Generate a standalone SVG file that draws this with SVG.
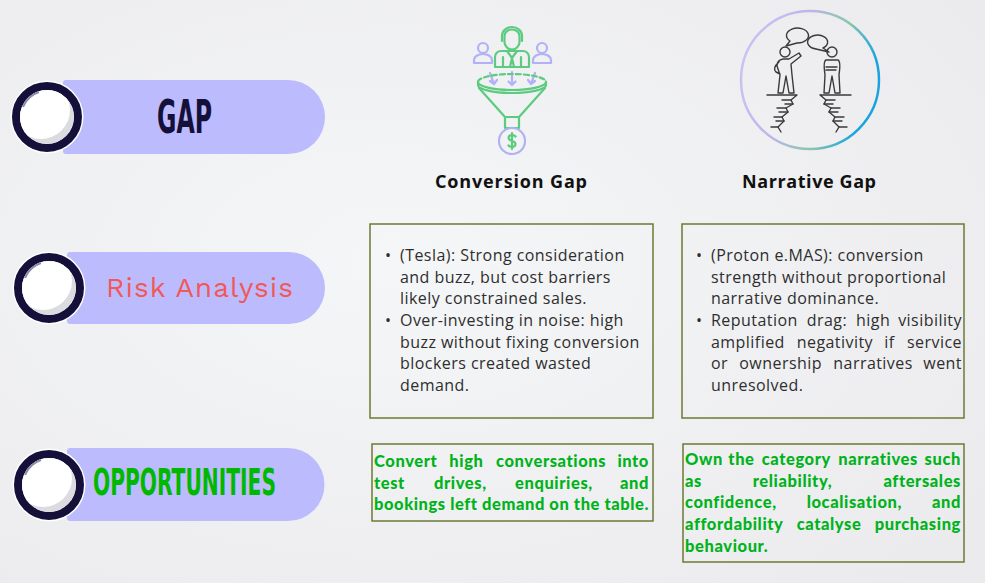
<svg xmlns="http://www.w3.org/2000/svg" width="985" height="583" viewBox="0 0 985 583">
<defs>
  <radialGradient id="bg" cx="0.4" cy="0.45" r="0.75">
    <stop offset="0" stop-color="#f5f6f8"/>
    <stop offset="1" stop-color="#ebebed"/>
  </radialGradient>
  <linearGradient id="ringGrad" x1="0" y1="0" x2="1" y2="0.3">
    <stop offset="0" stop-color="#cbc8f6"/>
    <stop offset="0.45" stop-color="#c0b4ea"/>
    <stop offset="0.75" stop-color="#86c7a9"/>
    <stop offset="1" stop-color="#1aa3e0"/>
  </linearGradient>
  <clipPath id="discClip"><circle cx="0" cy="0" r="27"/></clipPath>
  <g id="badge">
    <circle cx="0" cy="0" r="36.5" fill="#ffffff"/>
    <circle cx="0" cy="0" r="31" fill="none" stroke="#15103a" stroke-width="8"/>
    <g clip-path="url(#discClip)">
      <circle cx="0" cy="0" r="27" fill="#dcdce0"/>
      <circle cx="-6" cy="-7" r="29" fill="#ffffff"/>
    </g>
    <path d="M -24 -10 A 26 26 0 0 1 -8 -25" fill="none" stroke="#8f8aa8" stroke-width="2"/>
  </g>
</defs>
<style>
  .pill { fill: #bbbbfd; }
  .body { font-family: "Open Sans", "Liberation Sans", sans-serif; font-size: 16px; letter-spacing: 0.45px; fill: #2e2e2e; }
  .opp { font-family: Lato, "Liberation Sans", sans-serif; font-weight: 900; font-size: 16.5px; letter-spacing: 0.6px; fill: #00b31a; }
  .end { text-anchor: end; }
  .head { font-family: "Open Sans", "Liberation Sans", sans-serif; font-weight: 700; font-size: 18px; fill: #111111; }
  .box { fill: none; stroke: #6d7a35; stroke-width: 1.5; }
  .cond { font-family: "Liberation Sans Narrow", "DejaVu Sans Condensed", "DejaVu Sans", sans-serif; font-weight: 700; }
  .ico { fill: none; stroke: #5ccb80; stroke-width: 2.2; stroke-linecap: round; stroke-linejoin: round; }
  .icoL { fill: none; stroke: #b1b1f7; stroke-width: 2.2; stroke-linecap: round; stroke-linejoin: round; }
  .line { fill: none; stroke: #3a3a3a; stroke-width: 1.4; stroke-linecap: round; stroke-linejoin: round; }
</style>

<rect x="0" y="0" width="985" height="583" fill="url(#bg)"/>

<g id="connectors"></g>

<!-- Row labels -->
<g id="label-gap">
  <path class="pill" d="M 66 80 H 288 A 37 37 0 0 1 288 154 H 66 A 3 3 0 0 1 63 151 V 83 A 3 3 0 0 1 66 80 Z"/>
  <use href="#badge" x="47" y="117"/>
  <g transform="translate(157 133) scale(0.62 1)">
    <text class="cond" x="0" y="0" font-size="46" fill="#15103a" textLength="88.7" lengthAdjust="spacingAndGlyphs">GAP</text>
  </g>
</g>

<g id="label-risk">
  <path class="pill" d="M 70 252 H 289 A 36 36 0 0 1 289 324 H 70 A 3 3 0 0 1 67 321 V 255 A 3 3 0 0 1 70 252 Z"/>
  <use href="#badge" x="49" y="288"/>
  <text x="106" y="297" font-family="'Work Sans', Lato, 'Open Sans', sans-serif" font-size="28" fill="#f25858" textLength="187">Risk Analysis</text>
</g>

<g id="label-opp">
  <path class="pill" d="M 70 448 H 288 A 36.5 36.5 0 0 1 288 521 H 70 A 3 3 0 0 1 67 518 V 451 A 3 3 0 0 1 70 448 Z"/>
  <use href="#badge" x="49" y="485"/>
  <g transform="translate(93 495) scale(0.6 1)">
    <text class="cond" x="0" y="0" font-size="37" fill="#00b800" textLength="305" lengthAdjust="spacingAndGlyphs">OPPORTUNITIES</text>
  </g>
</g>

<!-- Conversion Gap icon -->
<g id="icon-conversion">
  <circle class="icoL" cx="483" cy="48" r="5"/>
  <path class="icoL" d="M 474 63 V 60 A 9 6 0 0 1 492 60 V 63 Z"/>
  <circle class="icoL" cx="542" cy="48" r="5"/>
  <path class="icoL" d="M 533 63 V 60 A 9 6 0 0 1 551 60 V 63 Z"/>
  <path class="ico" d="M 504.5 42 V 36 A 7.5 6.5 0 0 1 519.5 36 V 42 A 7.5 7.5 0 0 1 504.5 42 Z"/>
  <path class="ico" d="M 502 41 V 36 A 10 9 0 0 1 522 36 V 41"/>
  <path class="ico" d="M 495 67 V 57 A 6 6 0 0 1 501 51 H 523 A 6 6 0 0 1 529 57 V 67 Z"/>
  <path class="ico" d="M 507 51 L 512 58 L 517 51 M 512 58 L 510 67 M 512 58 L 514 67 M 503 57 V 67 M 521 57 V 67"/>
  <path class="icoL" d="M 490 73 L 494 84 M 490 81 L 494 84 L 497 80"/>
  <path class="icoL" d="M 512 72 V 85 M 508.5 81.5 L 512 85 L 515.5 81.5"/>
  <path class="icoL" d="M 535 73 L 531 84 M 528 80 L 531 84 L 535 81"/>
  <path class="ico" d="M 478 82 A 34 8 0 0 1 546 82" stroke-dasharray="5 3"/>
  <path class="ico" d="M 478 82 A 34 8 0 0 0 546 82"/>
  <path class="ico" d="M 478 82 V 85 A 34 8 0 0 0 546 85 V 82"/>
  <path class="ico" d="M 479 88 L 505 117 H 519 L 545 88"/>
  <rect class="ico" x="505" y="117" width="14" height="11"/>
  <circle class="icoL" cx="512" cy="141" r="13"/>
  <path class="ico" stroke-width="1.8" d="M 515.5 136.5 C 514 134.5 508.5 134.5 508.5 138 C 508.5 141.5 515.5 140 515.5 144 C 515.5 147.5 510 147.5 508.5 145.5 M 512 133 V 149"/>
</g>

<!-- Narrative Gap icon -->
<g id="icon-narrative">
  <circle cx="810" cy="80" r="69" fill="none" stroke="url(#ringGrad)" stroke-width="2.5"/>
  <path class="line" d="M 797 43 A 11 7.5 0 1 0 790 41 L 786 46 Z"/>
  <path class="line" d="M 816 49 A 10 7 0 1 1 823 48 L 829 52 Z"/>
  <circle class="line" cx="785" cy="52" r="5"/>
  <path class="line" d="M 778 93 L 780 75 L 777 66 Q 777 60 783 59 L 789 59 L 799 53 L 801 56 L 791 64 L 792 75 L 794 93 M 778 93 H 783 L 786 76 L 789 93 H 794 M 779 62 Q 772 68 776 72 L 780 74"/>
  <circle class="line" cx="832" cy="52" r="5"/>
  <path class="line" d="M 824 93 L 825 75 Q 823 61 826 60 L 838 60 Q 841 61 839 75 L 840 93 M 824 93 H 829 L 832 76 L 835 93 H 840 M 826 67 H 837 M 826 70 H 836"/>
  <path class="line" d="M 767 95 H 797 L 791 100 L 793 104 L 786 108 L 788 112 L 782 117 L 784 121 L 778 127 L 781 132"/>
  <path class="line" d="M 791 100 H 782 M 793 104 H 785 M 786 108 H 777 M 788 112 H 779 M 782 117 H 774 M 784 121 H 776 M 778 127 H 771"/>
  <path class="line" d="M 820 95 H 851 M 820 95 L 826 100 L 824 104 L 831 108 L 829 112 L 835 117 L 833 121 L 839 127 L 836 132"/>
  <path class="line" d="M 826 100 H 835 M 824 104 H 833 M 831 108 H 840 M 829 112 H 838 M 835 117 H 844 M 833 121 H 842 M 839 127 H 847"/>
</g>

<g id="heading-conversion">
  <text class="head" x="435" y="188" textLength="152">Conversion Gap</text>
</g>
<g id="heading-narrative">
  <text class="head" x="742" y="188" textLength="134">Narrative Gap</text>
</g>

<!-- Risk boxes -->
<g id="risk-conversion">
  <rect class="box" x="370" y="224" width="283" height="194"/>
  <text class="body" x="385" y="261">•</text>
  <text class="body" x="400" y="261">(Tesla): Strong consideration</text>
  <text class="body" x="400" y="282.7">and buzz, but cost barriers</text>
  <text class="body" x="400" y="304.3">likely constrained sales.</text>
  <text class="body" x="385" y="326">•</text>
  <text class="body" x="400" y="326">Over-investing in noise: high</text>
  <text class="body" x="400" y="347.7">buzz without fixing conversion</text>
  <text class="body" x="400" y="369.3">blockers created wasted</text>
  <text class="body" x="400" y="391">demand.</text>
</g>

<g id="risk-narrative">
  <rect class="box" x="682" y="224" width="282" height="194"/>
  <text class="body" x="696" y="261">•</text>
  <text class="body" x="711" y="261">(Proton e.MAS): conversion</text>
  <text class="body" x="711" y="282.7">strength without proportional</text>
  <text class="body" x="711" y="304.3">narrative dominance.</text>
  <text class="body" x="696" y="326">•</text>
  <text class="body" y="326"><tspan x="711">Reputation</tspan><tspan x="806.7">drag:</tspan><tspan x="856">high</tspan></text>
  <text class="body end" x="962" y="326">visibility</text>
  <text class="body" y="347.7"><tspan x="711">amplified</tspan><tspan x="796.7">negativity</tspan><tspan x="884.3">if</tspan></text>
  <text class="body end" x="962" y="347.7">service</text>
  <text class="body" y="369.3"><tspan x="711">or</tspan><tspan x="739.3">ownership</tspan><tspan x="833.3">narratives</tspan></text>
  <text class="body end" x="962" y="369.3">went</text>
  <text class="body" x="711" y="391">unresolved.</text>
</g>

<!-- Opportunity boxes -->
<g id="opp-conversion">
  <rect class="box" x="372" y="444" width="281" height="77"/>
  <text class="opp" y="467"><tspan x="374">Convert</tspan><tspan x="449.3">high</tspan><tspan x="496">conversations</tspan></text>
  <text class="opp end" x="649" y="467">into</text>
  <text class="opp" y="488.7"><tspan x="374">test</tspan><tspan x="434">drives,</tspan><tspan x="515">enquiries,</tspan></text>
  <text class="opp end" x="649" y="488.7">and</text>
  <text class="opp" x="374" y="510.3" textLength="275">bookings left demand on the table.</text>
</g>

<g id="opp-narrative">
  <rect class="box" x="683" y="444" width="281" height="118"/>
  <text class="opp" y="465"><tspan x="685">Own</tspan><tspan x="728.3">the</tspan><tspan x="761.7">category</tspan><tspan x="838.3">narratives</tspan></text>
  <text class="opp end" x="961" y="465">such</text>
  <text class="opp" y="486.7"><tspan x="685">as</tspan><tspan x="752.7">reliability,</tspan></text>
  <text class="opp end" x="961" y="486.7">aftersales</text>
  <text class="opp" y="508.3"><tspan x="685">confidence,</tspan><tspan x="806.7">localisation,</tspan></text>
  <text class="opp end" x="961" y="508.3">and</text>
  <text class="opp" y="530"><tspan x="685">affordability</tspan><tspan x="796.7">catalyse</tspan></text>
  <text class="opp end" x="961" y="530">purchasing</text>
  <text class="opp" x="685" y="551.7">behaviour.</text>
</g>
</svg>
